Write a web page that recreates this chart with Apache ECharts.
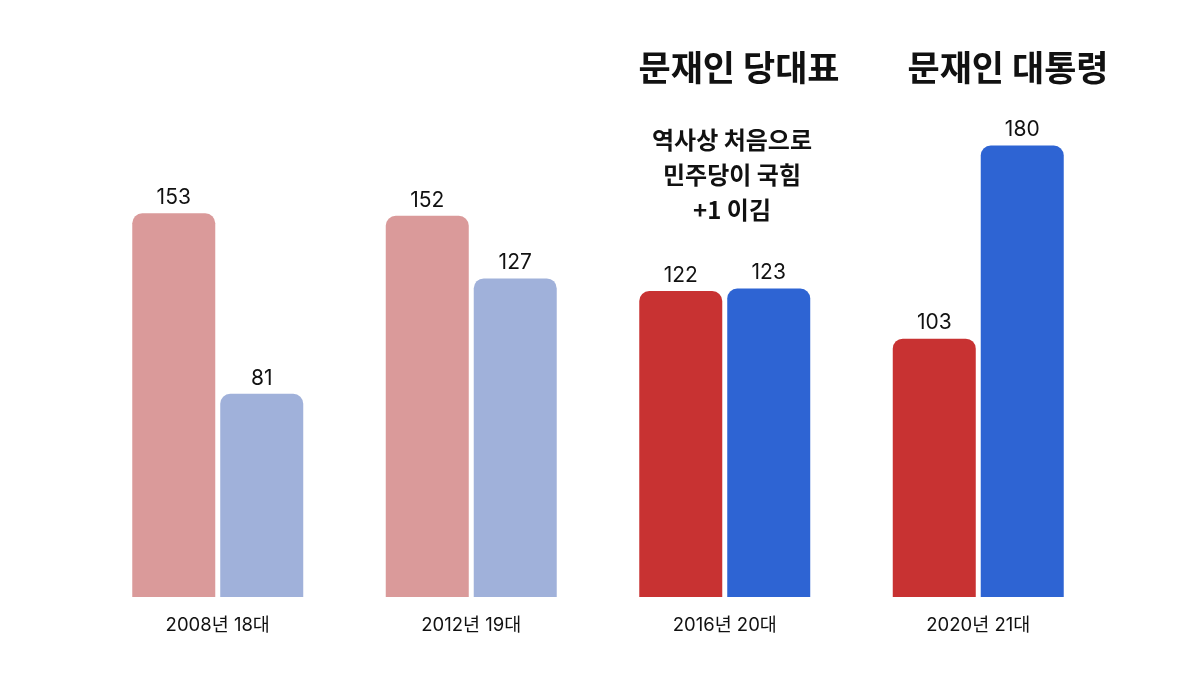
<!DOCTYPE html>
<html>
<head>
<meta charset="utf-8">
<script src="https://cdn.jsdelivr.net/npm/echarts@6/dist/echarts.min.js"></script>
<style>
  html, body { margin: 0; padding: 0; background: #ffffff; }
  #chart { width: 1200px; height: 675px; }
</style>
</head>
<body>
<div id="chart"></div>
<script>
var categories = ['2008년 18대', '2012년 19대', '2016년 20대', '2020년 21대'];
var redSeats = [153, 152, 122, 103];
var blueSeats = [81, 127, 123, 180];
var redColors = ['#da9a9a', '#da9a9a', '#c83232', '#c83232'];
var blueColors = ['#a0b1da', '#a0b1da', '#2e64d3', '#2e64d3'];
var font = '"Noto Sans CJK KR", "Noto Sans", sans-serif';
var numFont = 'Inter, "Noto Sans CJK KR", sans-serif';

function makeData(values, colors) {
    var rows = [];
    for (let i = 0; i < values.length; i++) {
        rows.push({ value: values[i], itemStyle: { color: colors[i] } });
    }
    return rows;
}

var chart = echarts.init(document.getElementById('chart'));
var barLabel = {
    show: true,
    position: 'top',
    distance: 5,
    color: '#111111',
    fontSize: 21,
    fontFamily: numFont
};

chart.setOption({
    backgroundColor: '#ffffff',
    animation: false,
    grid: { left: 91, right: 95, top: 0, bottom: 78 },
    xAxis: {
        type: 'category',
        data: categories,
        axisLine: { show: false },
        axisTick: { show: false },
        axisLabel: { color: '#111111', fontSize: 18.5, fontFamily: numFont, margin: 19 }
    },
    yAxis: {
        type: 'value',
        min: 0,
        max: 238,
        show: false
    },
    series: [
        {
            type: 'bar',
            data: makeData(redSeats, redColors),
            barWidth: 83,
            barGap: '6%',
            itemStyle: { borderRadius: [10, 10, 0, 0] },
            label: barLabel
        },
        {
            type: 'bar',
            data: makeData(blueSeats, blueColors),
            barWidth: 83,
            itemStyle: { borderRadius: [10, 10, 0, 0] },
            label: barLabel
        }
    ],
    graphic: [
        {
            type: 'text', x: 739, y: 68,
            style: { text: '문재인 당대표', fontSize: 35, fontWeight: 'bold', fontFamily: font, fill: '#111111', align: 'center', verticalAlign: 'middle' }
        },
        {
            type: 'text', x: 1008, y: 68,
            style: { text: '문재인 대통령', fontSize: 35, fontWeight: 'bold', fontFamily: font, fill: '#111111', align: 'center', verticalAlign: 'middle' }
        },
        {
            type: 'text', x: 732, y: 175,
            style: {
                text: '역사상 처음으로\n민주당이 국힘\n+1 이김',
                fontSize: 24, fontWeight: 'bold', fontFamily: font, fill: '#111111',
                lineHeight: 35, align: 'center', verticalAlign: 'middle'
            }
        }
    ]
});
</script>
</body>
</html>
